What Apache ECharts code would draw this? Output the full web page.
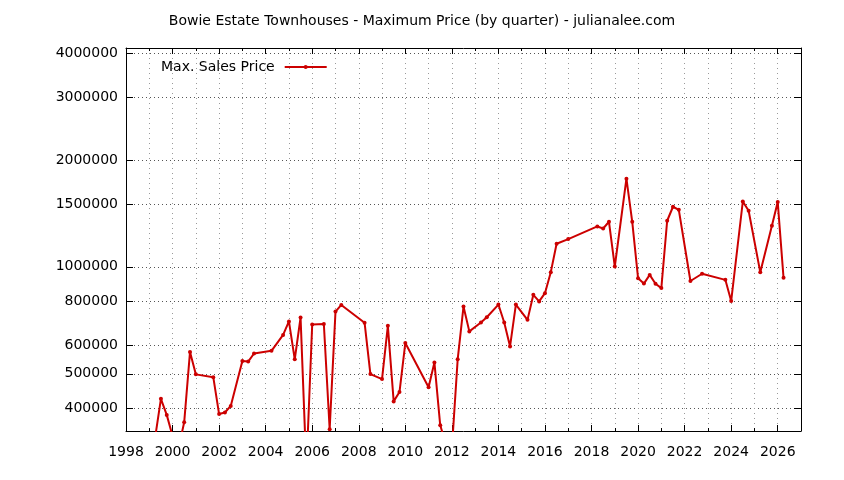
<!DOCTYPE html>
<html><head><meta charset="utf-8">
<script src="https://cdn.jsdelivr.net/npm/echarts@6/dist/echarts.min.js"></script>
<style>html,body{margin:0;padding:0;background:#fff}#c{width:844px;height:480px}</style>
</head><body><div id="c"></div>
<script>
const titleText = 'Bowie Estate Townhouses - Maximum Price (by quarter) - julianalee.com';
const seriesName = 'Max. Sales Price';
const quarters = [
  1999.25, 1999.5, 1999.75, 2000.0, 2000.25, 2000.5, 2000.75, 2001.0, 2001.75, 2002.0,
  2002.25, 2002.5, 2003.0, 2003.25, 2003.5, 2004.25, 2004.75, 2005.0, 2005.25, 2005.5,
  2005.75, 2006.0, 2006.5, 2006.75, 2007.0, 2007.25, 2008.25, 2008.5, 2009.0, 2009.25,
  2009.5, 2009.75, 2010.0, 2011.0, 2011.25, 2011.5, 2011.75, 2012.0, 2012.25, 2012.5,
  2012.75, 2013.25, 2013.5, 2014.0, 2014.25, 2014.5, 2014.75, 2015.25, 2015.5, 2015.75,
  2016.0, 2016.25, 2016.5, 2017.0, 2018.25, 2018.5, 2018.75, 2019.0, 2019.5, 2019.75,
  2020.0, 2020.25, 2020.5, 2020.75, 2021.0, 2021.25, 2021.5, 2021.75, 2022.25, 2022.75,
  2023.75, 2024.0, 2024.5, 2024.75, 2025.25, 2025.75, 2026.0, 2026.25
];
const maxPrice = [
  330000, 425000, 383000, 334000, 307000, 365000, 576000, 498000, 489000, 385000,
  389000, 406000, 543000, 541000, 570000, 580000, 643000, 702000, 549000, 720000,
  270000, 688000, 690000, 349000, 748000, 781000, 696000, 499000, 483000, 682000,
  418000, 444000, 610000, 458000, 538000, 358000, 316000, 307000, 549000, 773000,
  658000, 697000, 721000, 783000, 697000, 597000, 783000, 709000, 834000, 799000,
  843000, 966000, 1161000, 1197000, 1299000, 1282000, 1339000, 1002000, 1770000, 1339000,
  929000, 897000, 949000, 896000, 871000, 1348000, 1476000, 1447000, 912000, 956000,
  919000, 801000, 1527000, 1438000, 966000, 1305000, 1521000, 931000
];
const yearTicks = [];
for (let y = 1998; y <= 2026; y++) yearTicks.push(y);
const yearLabels = [1998, 2000, 2002, 2004, 2006, 2008, 2010, 2012, 2014, 2016, 2018, 2020, 2022, 2024, 2026];
const priceTicks = [400000, 500000, 600000, 800000, 1000000, 1500000, 2000000, 3000000, 4000000];

const FONT = 'DejaVu Sans';
const FS = 14;
const RED = '#cc0000';
const X_MIN = 1998, X_MAX = 2027;
const Y_MIN = 345000, Y_MAX = 4130000;

function xAxisBase(pos, tickVals, len, showLine) {
  return {
    type: 'value', position: pos, min: X_MIN, max: X_MAX,
    axisLine: { show: showLine, onZero: false, lineStyle: { color: '#000', width: 1 } },
    axisTick: { show: true, inside: true, length: len, customValues: tickVals, lineStyle: { color: '#000', width: 1 } },
    axisLabel: { show: false },
    splitLine: { show: false }
  };
}

const bottomAxis = xAxisBase('bottom', yearTicks, 3, true);
bottomAxis.axisLabel = { show: true, customValues: yearLabels, formatter: v => String(v),
  fontFamily: FONT, fontSize: FS, color: '#000', margin: 14 };
bottomAxis.splitLine = { show: true, lineStyle: { color: '#9a9a9a', width: 1, type: [1, 4] } };

const chart = echarts.init(document.getElementById('c'), null, { renderer: 'canvas' });
chart.setOption({
  animation: false,
  backgroundColor: '#fff',
  title: { text: titleText, left: 'center', top: 9,
    textStyle: { fontFamily: FONT, fontSize: FS, fontWeight: 'normal', color: '#000' } },
  legend: { data: [seriesName], left: 156, top: 55, align: 'right', itemWidth: 42, itemHeight: 5,
    textStyle: { fontFamily: FONT, fontSize: FS, color: '#000', padding: [0, 5, 0, 0] } },
  grid: { left: 126, right: 43, top: 48, bottom: 49, containLabel: false },
  xAxis: [
    bottomAxis,
    xAxisBase('bottom', yearLabels, 6, false),
    xAxisBase('top', yearTicks, 3, true),
    xAxisBase('top', yearLabels, 6, false)
  ],
  yAxis: [
    { type: 'log', logBase: 10, position: 'left', min: Y_MIN, max: Y_MAX,
      axisLine: { show: true, onZero: false, lineStyle: { color: '#000', width: 1 } },
      axisTick: { show: true, inside: true, length: 7, customValues: priceTicks, lineStyle: { color: '#000' } },
      axisLabel: { show: true, customValues: priceTicks, formatter: v => String(Math.round(v)),
        fontFamily: FONT, fontSize: FS, color: '#000', margin: 8 },
      minorTick: { show: false },
      splitLine: { show: true, lineStyle: { color: '#555', width: 1, type: [1, 3] } } },
    { type: 'log', logBase: 10, position: 'right', min: Y_MIN, max: Y_MAX,
      axisLine: { show: true, onZero: false, lineStyle: { color: '#000', width: 1 } },
      axisTick: { show: true, inside: true, length: 7, customValues: priceTicks, lineStyle: { color: '#000' } },
      axisLabel: { show: false },
      splitLine: { show: false } }
  ],
  series: [{
    name: seriesName, type: 'line', xAxisIndex: 0, yAxisIndex: 0,
    data: quarters.map((q, i) => [q, maxPrice[i]]),
    symbol: 'circle', symbolSize: 4, showSymbol: true, clip: true,
    lineStyle: { color: RED, width: 2 }, itemStyle: { color: RED },
    emphasis: { disabled: true }
  }]
});
</script>
</body></html>
